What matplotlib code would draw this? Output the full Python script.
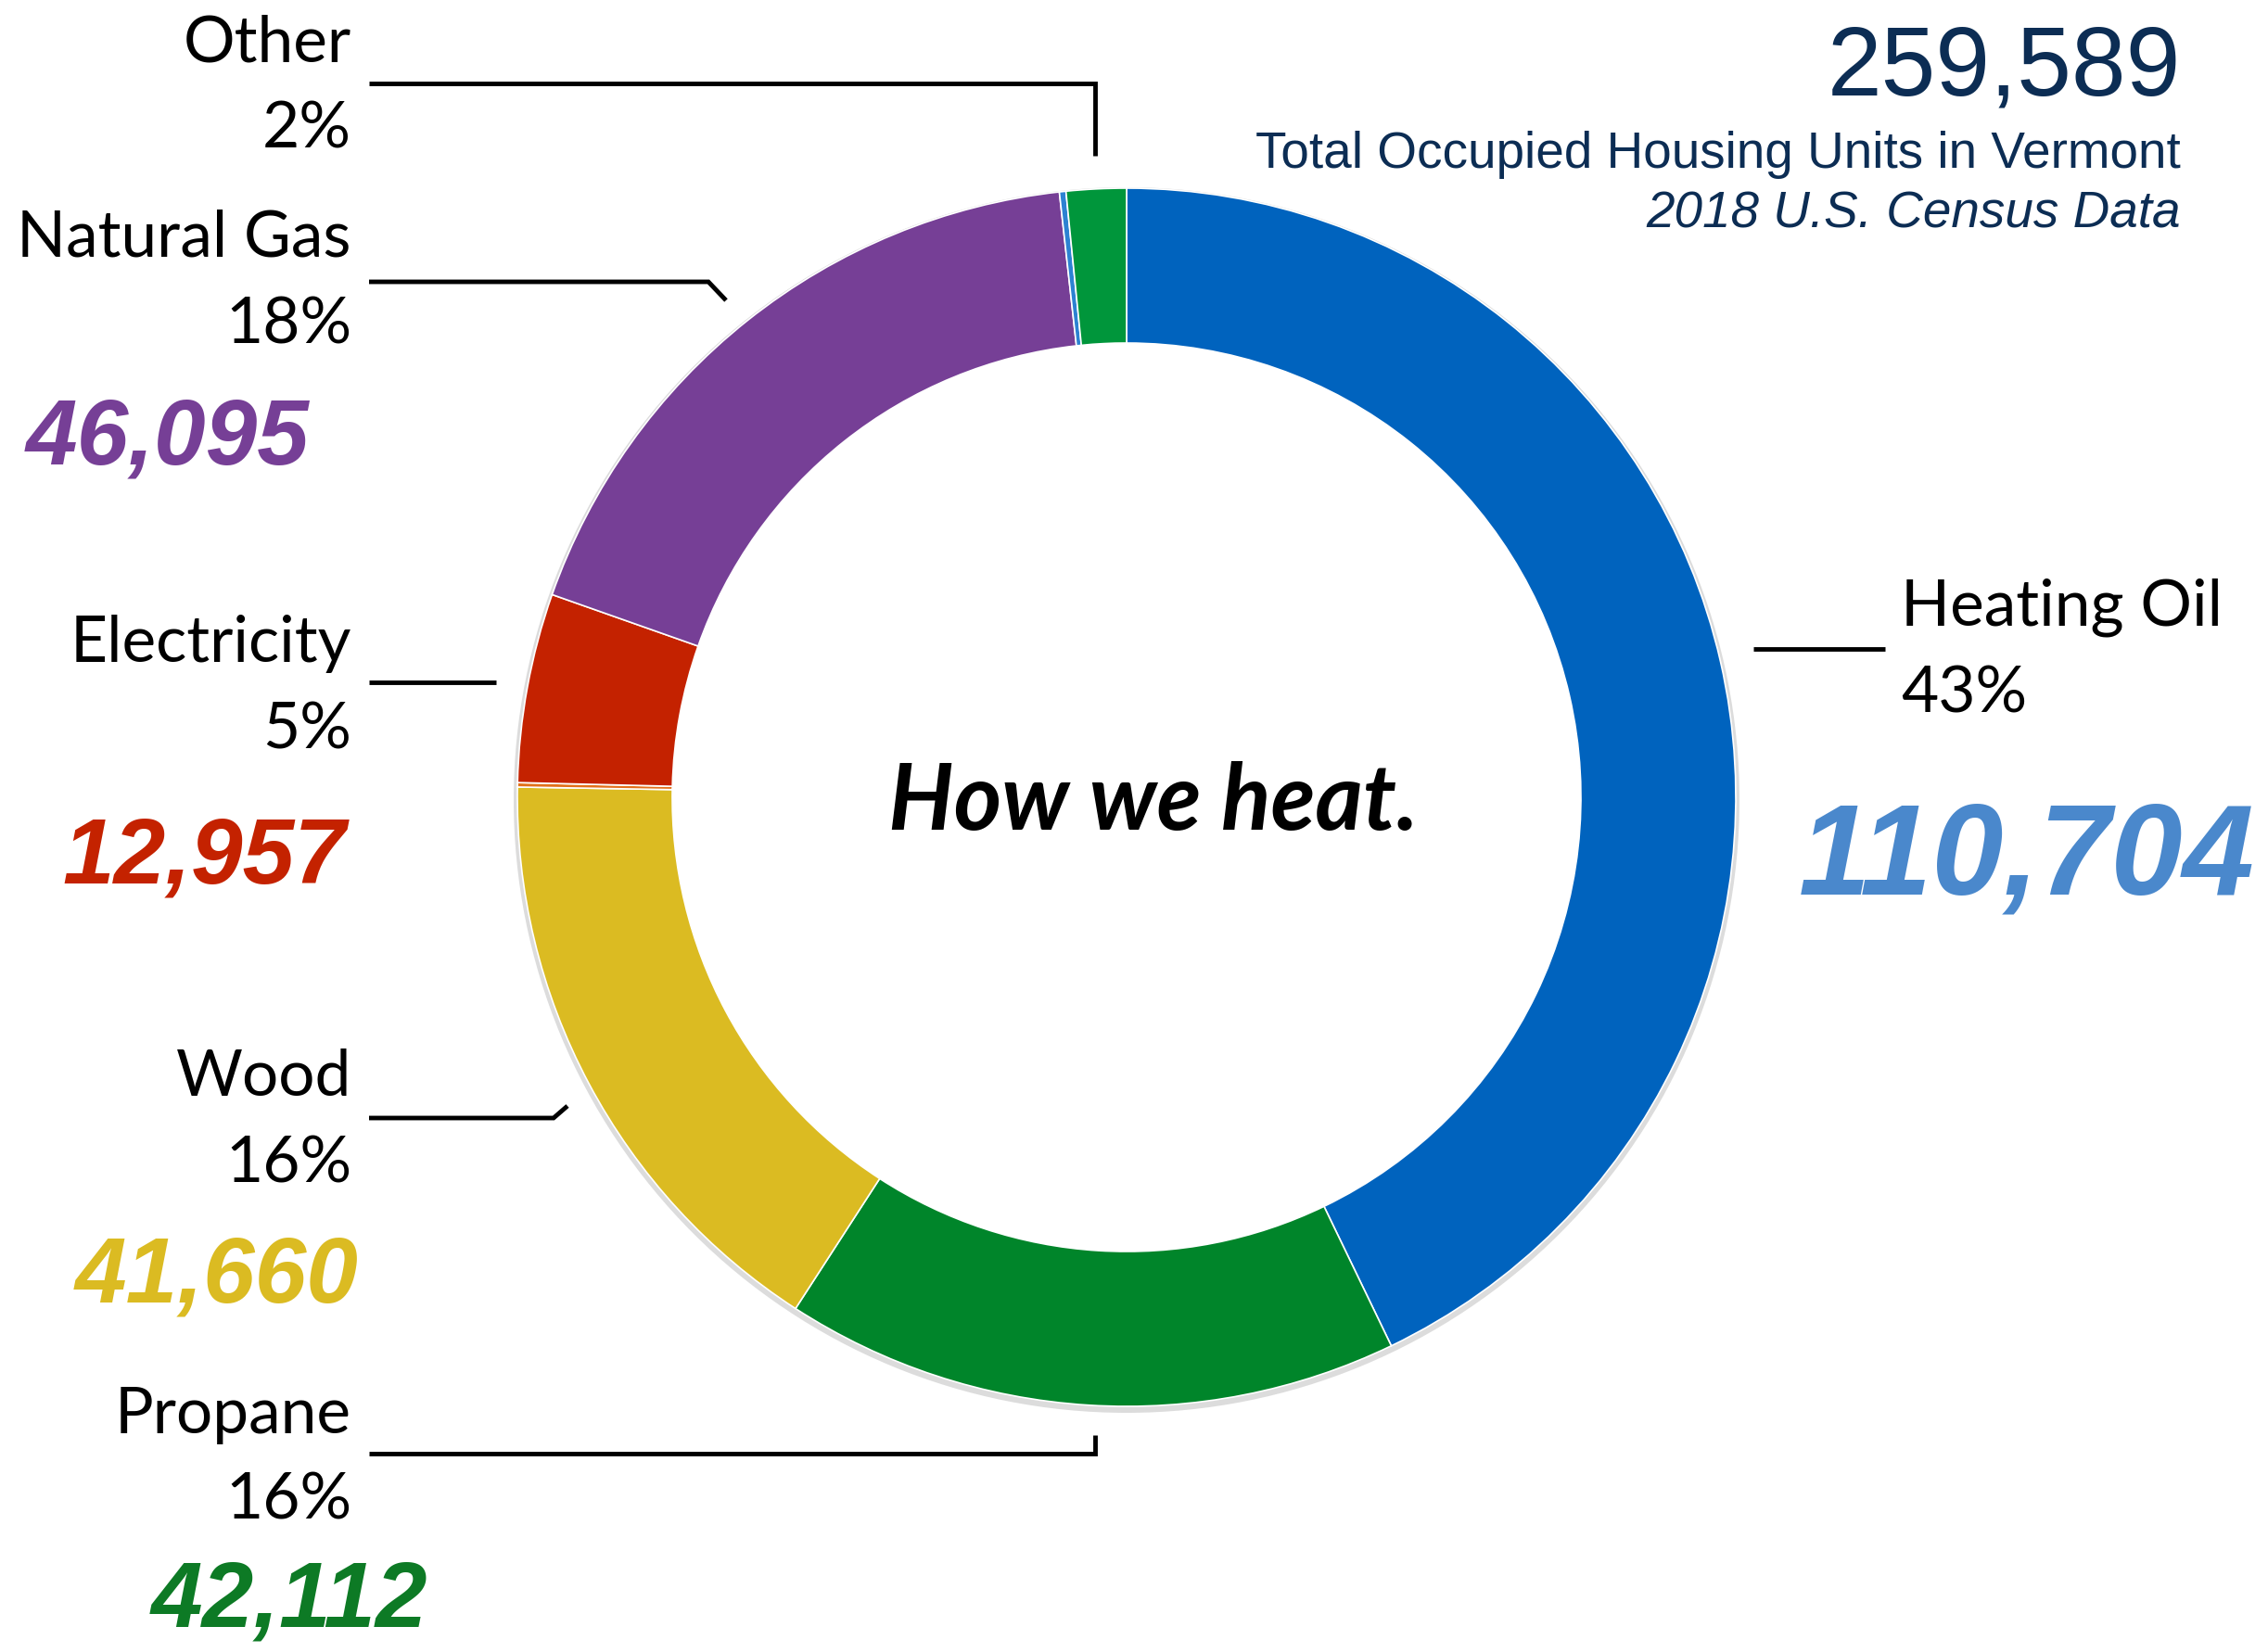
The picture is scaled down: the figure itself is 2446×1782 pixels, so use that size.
import matplotlib
matplotlib.use("Agg")
import matplotlib.pyplot as plt

# heating fuel data, Vermont occupied housing units (2018 census)
fuels = ["Heating Oil", "Propane", "Wood", "Coal", "Electricity", "Natural Gas", "Kerosene", "Other"]
units = [110704, 42112, 41660, 300, 12957, 46095, 450, 4100]
colors = ["#0063BE", "#00852A", "#DBBB22", "#E2701A", "#C42200", "#763F96", "#2C82D2", "#00963B"]

total_units = 259589
label_names = ["Other", "Natural Gas", "Electricity", "Wood", "Propane"]
label_pcts = ["2%", "18%", "5%", "16%", "16%"]
big_numbers = ["46,095", "12,957", "41,660", "42,112", "110,704"]
big_colors = ["#763F96", "#C42200", "#DBBB22", "#0D7A25", "#4A88CC"]

W, H = 2446, 1782
CX, CY, R_OUT, R_IN = 1215, 860, 657, 490


def Y(y):
    """pixel row (from top) -> data y"""
    return H - y


def main():
    fig = plt.figure(figsize=(W / 100, H / 100), dpi=100)
    ax = fig.add_axes([0, 0, 1, 1])

    # faint shadow under the ring
    ax.pie([1], colors=["#dcdcdc"], radius=R_OUT + 4, center=(CX, Y(CY + 3)),
           wedgeprops=dict(width=12, linewidth=0))
    ax.pie(units, colors=colors, startangle=90, counterclock=False,
           radius=R_OUT, center=(CX, Y(CY)),
           wedgeprops=dict(width=R_OUT - R_IN, edgecolor="white", linewidth=1.2))
    ax.set_xlim(0, W)
    ax.set_ylim(0, H)
    ax.set_aspect("equal")
    ax.axis("off")

    lab = dict(family="Lato", weight="normal", fontsize=50, color="black")
    num = dict(family="Liberation Sans", weight="bold", style="italic", fontsize=72)

    # left side labels: name y, pct y, leader path
    name_y = [47, 257, 694, 1162, 1526]
    pct_y = [140, 351, 788, 1256, 1619]
    leaders = [
        [(398, 90), (1181, 90), (1181, 168)],
        [(398, 304), (764, 304), (783, 324)],
        [(398, 736), (535, 736)],
        [(398, 1206), (597, 1206), (612, 1193)],
        [(398, 1568), (1181, 1568), (1181, 1548)],
    ]
    for name, pct, ny, py, pts in zip(label_names, label_pcts, name_y, pct_y, leaders):
        ax.text(379, Y(ny), name, ha="right", va="center", **lab)
        ax.text(379, Y(py), pct, ha="right", va="center", **lab)
        xs = [p[0] for p in pts]
        ys = [Y(p[1]) for p in pts]
        ax.plot(xs, ys, color="black", lw=3.5, solid_capstyle="butt", solid_joinstyle="miter")

    # big colored counts
    num_pos = [(181, 474), (220, 926), (234, 1379), (312, 1728)]
    for txt, col, (x, y) in zip(big_numbers[:4], big_colors[:4], num_pos):
        ax.text(x, Y(y), txt, ha="center", va="center", color=col, **num)

    # heating oil on the right
    ax.text(2050, Y(655), "Heating Oil", ha="left", va="center", **lab)
    ax.text(2050, Y(749), "43%", ha="left", va="center", **lab)
    ax.plot([1891, 2033], [Y(700), Y(700)], color="black", lw=3.5, solid_capstyle="butt")
    ax.text(2186, Y(928), big_numbers[4], ha="center", va="center", color=big_colors[4],
            family="Liberation Sans", weight="bold", style="italic", fontsize=100)

    # header block
    navy = "#0C2D54"
    ax.text(2352, Y(75), f"{total_units:,}", ha="right", va="center", color=navy,
            family="Liberation Sans", fontsize=76)
    ax.text(2352, Y(167), "Total Occupied Housing Units in Vermont", ha="right", va="center",
            color=navy, family="Liberation Sans", fontsize=39.5)
    ax.text(2352, Y(231), "2018 U.S. Census Data", ha="right", va="center",
            color=navy, family="Liberation Sans", style="italic", fontsize=39.5)

    # center title
    ax.text(1244, Y(866), "How we heat.", ha="center", va="center", color="black",
            family="Lato", weight="bold", style="italic", fontsize=71)

    fig.savefig("out.png", dpi=100, facecolor="white")


if __name__ == "__main__":
    main()
